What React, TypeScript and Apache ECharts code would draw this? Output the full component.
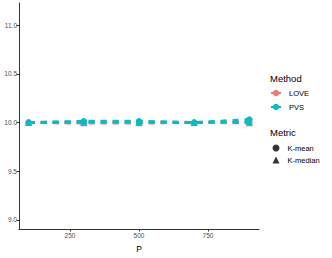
import React, { useEffect, useRef } from "react";
import * as echarts from "echarts";

const pValues = [100, 300, 500, 700, 900];
const loveKMean = [10.0, 9.998, 9.998, 10.0, 10.0];
const loveKMedian = [10.0, 9.998, 9.998, 10.0, 9.998];
const pvsKMean = [10.0, 10.012, 10.012, 10.0, 10.03];
const pvsKMedian = [10.0, 10.005, 10.005, 10.0, 10.005];
const yTicks = [9.0, 9.5, 10.0, 10.5, 11.0];
const xTicks = [250, 500, 750];
const methods = ["LOVE", "PVS"];
const metrics = ["K-mean", "K-median"];

const COLORS: Record<string, string> = { LOVE: "#F8766D", PVS: "#00BFC4" };
const SYMBOLS: Record<string, string> = { "K-mean": "circle", "K-median": "triangle" };
const FONT = "Liberation Sans, Arial, Helvetica, sans-serif";

export default function App() {
  const ref = useRef<HTMLDivElement>(null);
  useEffect(() => {
    if (!ref.current) return;
    const chart = echarts.init(ref.current, null, { renderer: "svg" });
    const dataMap: Record<string, number[]> = {
      "LOVE K-mean": loveKMean,
      "LOVE K-median": loveKMedian,
      "PVS K-mean": pvsKMean,
      "PVS K-median": pvsKMedian,
    };
    const dataSeries: any[] = [];
    methods.forEach((m) => {
      metrics.forEach((k) => {
        const name = m + " " + k;
        dataSeries.push({
          name,
          type: "line",
          data: pValues.map((p, i) => [p, dataMap[name][i]]),
          symbol: SYMBOLS[k],
          symbolSize: k === "K-median" ? 7 : 6.5,
          itemStyle: { color: COLORS[m] },
          lineStyle: { color: COLORS[m], width: 3, type: [6, 6] },
          z: (m === "PVS" ? 4 : 2) + (k === "K-median" ? 1 : 0),
        });
      });
    });
    const legendSeries: any[] = [
      ...methods.map((m) => ({
        name: m,
        type: "line",
        data: [],
        symbol: "circle",
        symbolSize: 6,
        itemStyle: { color: COLORS[m] },
        lineStyle: { color: COLORS[m], width: 3 },
      })),
      ...metrics.map((k) => ({
        name: k,
        type: "scatter",
        data: [],
        symbol: SYMBOLS[k],
        symbolSize: 7,
        itemStyle: { color: "#000" },
      })),
    ];
    chart.setOption({
      animation: false,
      grid: { left: 19, right: 73, top: 3, bottom: 23, containLabel: false },
      xAxis: {
        type: "value",
        min: 65,
        max: 935,
        name: "P",
        nameLocation: "middle",
        nameGap: 15,
        nameTextStyle: { fontFamily: FONT, fontSize: 8.5, color: "#000" },
        splitLine: { show: false },
        axisLine: { show: true, lineStyle: { color: "#333", width: 1 } },
        axisTick: { show: true, length: 2.5, customValues: xTicks, lineStyle: { color: "#333" } },
        axisLabel: {
          customValues: xTicks,
          fontFamily: FONT,
          fontSize: 6.5,
          color: "#4D4D4D",
          margin: 3,
        },
      },
      yAxis: {
        type: "value",
        min: 8.907,
        max: 11.227,
        splitLine: { show: false },
        axisLine: { show: true, lineStyle: { color: "#333", width: 1 } },
        axisTick: { show: true, length: 2.5, customValues: yTicks, lineStyle: { color: "#333" } },
        axisLabel: {
          customValues: yTicks,
          formatter: (v: number) => v.toFixed(1),
          fontFamily: FONT,
          fontSize: 6.5,
          color: "#4D4D4D",
          margin: 2,
        },
      },
      legend: [
        {
          data: methods,
          orient: "vertical",
          left: 270,
          top: 89,
          padding: 0,
          itemWidth: 10,
          itemHeight: 8,
          itemGap: 6,
          textStyle: { fontFamily: FONT, fontSize: 7.5, color: "#000", padding: [0, 0, 0, 3] },
          selectedMode: false,
        },
        {
          data: metrics,
          orient: "vertical",
          left: 272.5,
          top: 144,
          padding: 0,
          itemWidth: 7,
          itemHeight: 7,
          itemGap: 4,
          textStyle: { fontFamily: FONT, fontSize: 7.5, color: "#000", padding: [0, 0, 0, 3] },
          selectedMode: false,
        },
      ],
      graphic: [
        {
          type: "text",
          left: 270,
          top: 73,
          style: { text: "Method", fontFamily: FONT, fontSize: 9.5, fill: "#000" },
        },
        {
          type: "text",
          left: 270,
          top: 127,
          style: { text: "Metric", fontFamily: FONT, fontSize: 9.5, fill: "#000" },
        },
      ],
      series: [...dataSeries, ...legendSeries],
    });
    return () => chart.dispose();
  }, []);
  return <div ref={ref} style={{ width: 332, height: 258, position: "absolute", left: 0, top: 0 }} />;
}
